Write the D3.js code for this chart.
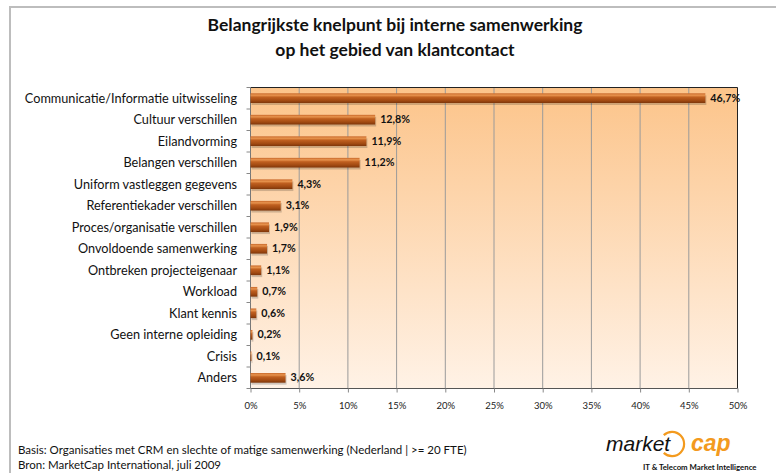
<!DOCTYPE html>
<html><head><meta charset="utf-8">
<script src="https://cdnjs.cloudflare.com/ajax/libs/d3/7.8.5/d3.min.js"></script>
<style>
html,body{margin:0;padding:0;background:#fff;}
svg{display:block;font-family:Lato,"Open Sans",sans-serif;}
</style></head>
<body>
<script>
const categories = ["Communicatie/Informatie uitwisseling","Cultuur verschillen","Eilandvorming","Belangen verschillen","Uniform vastleggen gegevens","Referentiekader verschillen","Proces/organisatie verschillen","Onvoldoende samenwerking","Ontbreken projecteigenaar","Workload","Klant kennis","Geen interne opleiding","Crisis","Anders"];
const values = [46.7,12.8,11.9,11.2,4.3,3.1,1.9,1.7,1.1,0.7,0.6,0.2,0.1,3.6];
const valueLabels = ["46,7%","12,8%","11,9%","11,2%","4,3%","3,1%","1,9%","1,7%","1,1%","0,7%","0,6%","0,2%","0,1%","3,6%"];
const ticks = [0,5,10,15,20,25,30,35,40,45,50];
const tickLabels = ["0%","5%","10%","15%","20%","25%","30%","35%","40%","45%","50%"];
const titleLines = ["Belangrijkste knelpunt bij interne samenwerking","op het gebied van klantcontact"];
const footLines = ["Basis: Organisaties met CRM en slechte of matige samenwerking (Nederland | >= 20 FTE)","Bron: MarketCap International, juli 2009"];

const W=776,H=473;
const svg=d3.select("body").append("svg").attr("width",W).attr("height",H);
const defs=svg.append("defs");
const bg=defs.append("linearGradient").attr("id","bg").attr("x1",0).attr("y1",0).attr("x2",0).attr("y2",1);
bg.append("stop").attr("offset","0%").attr("stop-color","#fcc48a");
bg.append("stop").attr("offset","100%").attr("stop-color","#fff2e6");
const bar=defs.append("linearGradient").attr("id","bar").attr("x1",0).attr("y1",0).attr("x2",0).attr("y2",1);
[["0%","#c8682a"],["20%","#e8944e"],["40%","#c06020"],["75%","#a24a12"],["100%","#7e360a"]].forEach(s=>bar.append("stop").attr("offset",s[0]).attr("stop-color",s[1]));

// outer border
svg.append("path").attr("d","M10,473 L10,7 L776,7").attr("fill","none").attr("stroke","#bdbdbd").attr("stroke-width",2);

// title
svg.append("g").selectAll("text").data(titleLines).join("text")
  .attr("x",395).attr("y",(d,i)=>31+i*25).attr("text-anchor","middle")
  .attr("font-size",17.5).attr("font-weight","bold").attr("fill","#111").text(d=>d);

const x0=250.5,x1=737.5,y0=87.5,y1=388.5;
const x=d3.scaleLinear().domain([0,50]).range([x0,x1]);
const y=d3.scaleBand().domain(categories).range([y0,y1]).paddingInner(0.55).paddingOuter(0.27);
const yb=d3.scaleBand().domain(categories).range([y0,y1]);

svg.append("rect").attr("x",x0).attr("y",y0).attr("width",x1-x0).attr("height",y1-y0).attr("fill","url(#bg)");
// gridlines
svg.append("g").selectAll("line").data(ticks.slice(1,-1)).join("line")
  .attr("x1",d=>x(d)).attr("x2",d=>x(d)).attr("y1",y0).attr("y2",y1)
  .attr("stroke","#9a9a9a").attr("stroke-width",1);
// frame
svg.append("path").attr("d",`M${x0},${y0} L${x1},${y0} L${x1},${y1}`).attr("fill","none").attr("stroke","#222").attr("stroke-width",1);
svg.append("line").attr("x1",x0).attr("x2",x1).attr("y1",y1).attr("y2",y1).attr("stroke","#555");
svg.append("line").attr("x1",x0).attr("x2",x0).attr("y1",y0).attr("y2",y1).attr("stroke","#777");

// bottom axis
const xa=svg.append("g").attr("transform",`translate(0,${y1})`).call(d3.axisBottom(x).tickValues(ticks).tickSize(4).tickFormat((d,i)=>tickLabels[i]));
xa.select(".domain").remove();
xa.selectAll("line").attr("stroke","#888");
xa.selectAll("text").attr("font-size",9.5).attr("fill","#222").attr("dy","1.45em").attr("font-family","Lato,'Open Sans',sans-serif");

// left ticks between categories
const bounds=categories.map(c=>yb(c)).concat([y1]);
svg.append("g").selectAll("line").data(bounds).join("line")
  .attr("x1",x0-4).attr("x2",x0).attr("y1",d=>d).attr("y2",d=>d).attr("stroke","#888");

// category labels
svg.append("g").selectAll("text").data(categories).join("text")
  .attr("x",237).attr("y",d=>yb(d)+yb.bandwidth()/2).attr("dy","0.35em")
  .attr("text-anchor","end").attr("font-size",12.7).attr("fill","#111").text(d=>d);

// bar shadows
svg.append("g").selectAll("rect").data(values).join("rect")
  .attr("x",x0+1).attr("y",(d,i)=>y(categories[i])+2)
  .attr("width",d=>Math.max(0.6,x(d)-x0)).attr("height",y.bandwidth())
  .attr("fill","#000").attr("opacity",0.18);
// bars
svg.append("g").selectAll("rect").data(values).join("rect")
  .attr("x",x0).attr("y",(d,i)=>y(categories[i]))
  .attr("width",d=>Math.max(0.6,x(d)-x0)).attr("height",y.bandwidth())
  .attr("fill","url(#bar)");

// value labels
svg.append("g").selectAll("text").data(values).join("text")
  .attr("x",d=>x(d)+5).attr("y",(d,i)=>yb(categories[i])+yb.bandwidth()/2).attr("dy","0.35em")
  .attr("font-size",10.7).attr("font-weight","bold").attr("fill","#111").text((d,i)=>valueLabels[i]);

// footer
svg.append("g").selectAll("text").data(footLines).join("text")
  .attr("x",18).attr("y",(d,i)=>454+i*15).attr("font-size",11.5).attr("fill","#111").text(d=>d);

// logo
const lg=svg.append("g");
lg.append("path").attr("d",d3.arc()({innerRadius:11,outerRadius:13.2,startAngle:-0.75,endAngle:Math.PI+0.75})).attr("transform","translate(672,444)").attr("fill","#f39a1e");
lg.append("text").attr("x",606).attr("y",451).attr("font-size",21).attr("font-style","italic").attr("fill","#111").attr("font-family","'Liberation Sans',Arial,sans-serif").text("market");
lg.append("text").attr("x",691).attr("y",451).attr("font-size",23).attr("font-style","italic").attr("font-weight","bold").attr("fill","#f39a1e").attr("font-family","'Liberation Sans',Arial,sans-serif").text("cap");
lg.append("text").attr("x",643).attr("y",470).attr("font-size",7.8).attr("fill","#111").attr("font-weight","bold").text("IT & Telecom Market Intelligence");
</script>
</body></html>
